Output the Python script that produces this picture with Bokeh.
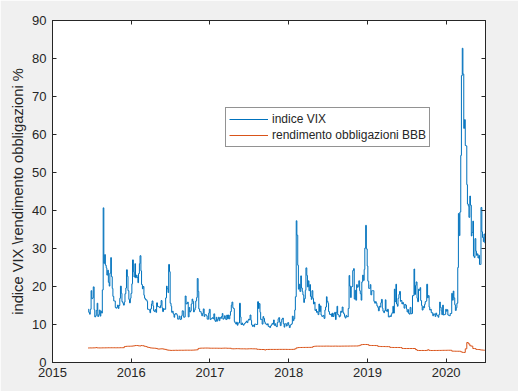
import numpy as np
import pandas as pd
from bokeh.plotting import figure
from bokeh.models import Range1d, FixedTicker, LinearAxis
from bokeh.embed import file_html
from bokeh.resources import INLINE

# ---------------- data ----------------
# indice VIX: two readings per week (Mon, Thu), starting 2015-06-15; each row = 4 weeks
vix = [
    14.0, 13.2, 12.7, 14.0, 18.9, 16.8, 17.0, 19.9,
    13.9, 12.0, 12.3, 13.7, 15.6, 12.1, 12.6, 13.8,
    12.2, 13.5, 13.0, 19.1, 40.7, 26.1, 28.4, 25.6,
    24.9, 23.0, 24.3, 21.1, 20.1, 23.5, 27.6, 22.6,
    19.5, 17.4, 16.2, 16.2, 14.5, 14.3, 14.5, 15.1,
    14.2, 15.0, 16.9, 20.1, 18.2, 16.0, 15.6, 15.1,
    15.9, 18.1, 19.6, 24.4, 22.7, 18.9, 16.6, 15.7,
    16.9, 18.2, 20.7, 27.0, 23.9, 22.5, 26.0, 22.3,
    23.0, 22.4, 21.0, 23.4, 26.0, 28.1, 24.1, 20.5,
    19.4, 20.0, 17.7, 16.9, 16.5, 16.5, 16.1, 14.0,
    14.0, 13.8, 13.1, 14.1, 15.4, 16.2, 14.9, 13.6,
    13.4, 13.9, 13.2, 15.7, 14.7, 14.7, 14.6, 14.4,
    15.0, 16.3, 14.4, 13.4, 14.2, 14.0, 14.0, 17.0,
    20.1, 19.4, 18.4, 25.8, 23.9, 15.6, 14.8, 13.2,
    13.5, 12.8, 11.9, 12.7, 12.9, 12.8, 12.4, 11.4,
    11.5, 12.2, 11.3, 11.4, 12.3, 13.6, 13.5, 11.9,
    12.0, 17.5, 15.4, 15.5, 15.9, 12.0, 14.5, 13.3,
    13.6, 15.4, 16.7, 16.1, 13.3, 13.8, 14.4, 16.2,
    17.1, 22.1, 18.7, 14.1, 13.4, 13.4, 12.9, 12.3,
    12.9, 14.1, 12.1, 12.6, 12.6, 12.3, 11.4, 11.4,
    13.0, 14.0, 11.3, 11.5, 11.6, 11.8, 11.5, 12.8,
    11.1, 10.8, 11.9, 10.9, 11.4, 11.9, 11.0, 11.8,
    11.6, 12.1, 12.9, 11.4, 11.6, 12.3, 11.5, 11.3,
    12.5, 11.5, 12.5, 11.5, 12.4, 13.4, 15.1, 15.9,
    14.4, 14.2, 10.8, 10.4, 10.1, 10.6, 9.8, 10.4,
    10.4, 15.6, 12.0, 10.0, 10.4, 10.0, 9.8, 10.2,
    10.4, 10.6, 10.9, 10.5, 11.1, 11.4, 11.2, 12.5,
    11.1, 9.9, 9.5, 9.8, 9.4, 10.1, 10.1, 10.0,
    10.0, 16.0, 14.2, 15.5, 13.2, 11.3, 11.4, 10.1,
    12.1, 11.6, 10.7, 10.2, 10.1, 9.9, 10.2, 9.5,
    9.5, 9.2, 9.6, 9.9, 10.3, 10.1, 11.2, 9.8,
    10.2, 9.6, 9.4, 10.5, 11.5, 11.8, 10.6, 9.7,
    10.7, 11.4, 11.7, 10.2, 9.3, 10.2, 10.2, 9.6,
    10.3, 10.5, 9.8, 9.2, 9.8, 10.0, 10.2, 12.2,
    11.0, 11.5, 13.8, 17.3, 37.3, 33.5, 25.6, 19.3,
    20.6, 18.7, 22.8, 19.6, 18.7, 17.8, 15.8, 16.8,
    19.0, 24.9, 22.9, 19.9, 21.5, 18.9, 20.5, 17.4,
    16.6, 18.9, 16.9, 15.4, 15.9, 13.7, 14.0, 13.2,
    13.4, 12.6, 15.4, 13.4, 14.9, 12.5, 12.1, 12.2,
    12.4, 11.6, 13.8, 14.6, 17.3, 16.1, 15.6, 13.4,
    12.7, 12.6, 12.8, 12.1, 13.0, 12.1, 12.8, 13.2,
    11.3, 13.2, 14.8, 12.6, 12.5, 12.0, 12.3, 13.5,
    13.2, 14.6, 13.2, 12.8, 12.1, 11.7, 12.4, 12.1,
    12.0, 14.2, 22.9, 20.1, 17.1, 19.9, 20.0, 24.2,
    24.7, 16.7, 19.0, 16.4, 20.5, 19.8, 20.1, 21.5,
    18.9, 18.1, 16.4, 21.2, 23.0, 21.6, 24.5, 30.1,
    36.1, 29.9, 25.4, 21.4, 19.5, 19.5, 20.5, 17.8,
    18.9, 18.9, 18.9, 16.1, 15.6, 16.0, 15.6, 14.9,
    14.5, 13.6, 14.8, 14.6, 15.7, 16.6, 14.3, 13.5,
    13.1, 13.6, 16.5, 13.7, 13.4, 14.0, 12.0, 12.0,
    12.3, 12.1, 12.7, 13.1, 14.8, 13.0, 19.3, 16.0,
    20.6, 15.4, 14.8, 16.9, 17.9, 18.7, 16.1, 16.3,
    15.4, 15.8, 15.4, 14.3, 15.3, 15.1, 14.1, 13.3,
    13.9, 12.9, 12.7, 14.5, 12.8, 12.9, 17.6, 17.6,
    24.6, 17.9, 20.3, 21.2, 16.9, 16.0, 19.3, 19.0,
    19.7, 16.3, 15.0, 13.8, 14.7, 14.4, 15.3, 16.0,
    16.2, 20.6, 17.0, 17.6, 14.6, 13.8, 14.0, 13.1,
    13.1, 12.3, 12.8, 12.7, 12.1, 13.0, 12.5, 12.3,
    11.9, 12.6, 15.9, 14.5, 13.6, 12.6, 15.1, 12.5,
    12.6, 12.7, 14.0, 13.5, 13.9, 12.5, 12.4, 12.3,
    12.9, 12.9, 18.2, 16.4, 18.8, 17.0, 15.2, 13.7,
    14.4, 15.6, 25.0, 39.2, 33.4, 39.6, 54.5, 75.5,
    82.7, 75.9, 61.6, 63.9, 57.1, 57.0, 46.8, 41.7,
    41.2, 38.2, 43.8, 41.4, 33.3, 34.2, 37.2, 28.0,
    27.6, 32.6, 29.3, 28.2, 28.6, 27.5, 28.2, 25.8,
    25.8, 40.8, 34.4, 32.9, 31.8, 33.8, 31.4,
]

# rendimento obbligazioni BBB: one reading per week starting 2015-06-15; each row = 4 weeks
bbb = [
    3.82, 3.84, 3.83, 3.85,
    3.86, 3.92, 3.85, 3.84,
    3.84, 3.85, 3.86, 3.86,
    3.87, 3.88, 3.88, 3.88,
    3.88, 3.88, 3.87, 3.88,
    3.88, 3.89, 3.89, 3.90,
    4.20, 4.25, 4.28, 4.28,
    4.30, 4.32, 4.38, 4.45,
    4.47, 4.40, 4.35, 4.45,
    4.42, 4.30, 4.20, 4.05,
    3.95, 3.85, 3.80, 3.78,
    3.75, 3.70, 3.55, 3.55,
    3.60, 3.60, 3.50, 3.45,
    3.30, 3.25, 3.20, 3.18,
    3.20, 3.20, 3.22, 3.20,
    3.22, 3.22, 3.22, 3.22,
    3.24, 3.24, 3.24, 3.24,
    3.24, 3.25, 3.28, 3.30,
    3.35, 3.70, 3.76, 3.78,
    3.78, 3.80, 3.80, 3.80,
    3.78, 3.76, 3.76, 3.76,
    3.76, 3.76, 3.75, 3.75,
    3.74, 3.76, 3.78, 3.78,
    3.75, 3.74, 3.75, 3.62,
    3.60, 3.62, 3.64, 3.64,
    3.62, 3.60, 3.60, 3.60,
    3.58, 3.58, 3.60, 3.62,
    3.62, 3.60, 3.60, 3.58,
    3.48, 3.45, 3.43, 3.42,
    3.42, 3.30, 3.42, 3.43,
    3.44, 3.44, 3.44, 3.44,
    3.44, 3.44, 3.45, 3.45,
    3.45, 3.45, 3.45, 3.45,
    3.44, 3.44, 3.44, 3.45,
    3.46, 3.60, 3.85, 3.92,
    3.95, 3.95, 3.96, 3.96,
    3.97, 3.97, 3.98, 3.98,
    4.00, 4.20, 4.28, 4.30,
    4.30, 4.30, 4.30, 4.30,
    4.30, 4.31, 4.31, 4.31,
    4.30, 4.30, 4.30, 4.31,
    4.31, 4.30, 4.30, 4.30,
    4.31, 4.31, 4.32, 4.32,
    4.32, 4.33, 4.33, 4.34,
    4.34, 4.35, 4.35, 4.40,
    4.55, 4.70, 4.74, 4.74,
    4.74, 4.72, 4.50, 4.48,
    4.47, 4.47, 4.46, 4.46,
    4.25, 4.22, 4.20, 4.20,
    4.20, 4.18, 4.18, 4.18,
    3.98, 3.96, 3.95, 3.95,
    3.95, 3.95, 3.94, 3.94,
    3.70, 3.68, 3.68, 3.68,
    3.68, 3.68, 3.68, 3.68,
    3.68, 3.40, 3.18, 3.16,
    3.16, 3.17, 3.16, 3.16,
    3.18, 3.35, 3.18, 3.16,
    3.16, 3.17, 3.17, 3.17,
    3.18, 3.18, 3.19, 3.20,
    3.20, 3.21, 3.22, 3.22,
    3.22, 3.00, 2.98, 2.97,
    2.96, 2.96, 2.96, 2.80,
    2.65, 2.65, 3.60, 5.26,
    4.90, 4.40, 4.30, 3.68,
    3.68, 3.45, 3.42, 3.40,
    3.30, 3.28, 3.24, 3.22,
]

x_ticks = [2015, 2016, 2017, 2018, 2019, 2020]
x_tick_labels = ["2015", "2016", "2017", "2018", "2019", "2020"]
y_ticks = [0, 10, 20, 30, 40, 50, 60, 70, 80, 90]
y_tick_labels = ["0", "10", "20", "30", "40", "50", "60", "70", "80", "90"]
series_names = ["indice VIX", "rendimento obbligazioni BBB"]
y_label = "indice VIX \\rendimento obbligazioni %"
start_date = "2015-06-15"


def decimal_year(dates):
    out = []
    for d in dates:
        s = pd.Timestamp(year=d.year, month=1, day=1)
        e = pd.Timestamp(year=d.year + 1, month=1, day=1)
        out.append(d.year + (d - s) / (e - s))
    return np.array(out)


start = pd.Timestamp(start_date)
iv = np.arange(len(vix))
vix_dates = start + pd.to_timedelta(7 * (iv // 2) + 3 * (iv % 2), unit="D")
ib = np.arange(len(bbb))
bbb_dates = start + pd.to_timedelta(7 * ib, unit="D")
vix_x = decimal_year(vix_dates)
bbb_x = decimal_year(bbb_dates)

# ---------------- figure ----------------
FONT = "Liberation Sans"
AX = "#262626"

p = figure(width=518, height=391, output_backend="svg", toolbar_location=None,
           x_range=Range1d(2015, 2020.5), y_range=Range1d(0, 90),
           min_border_left=52, min_border_right=33, min_border_top=20,
           min_border_bottom=29,
           background_fill_color="white", border_fill_color="#f0f0f0",
           outline_line_color=AX, outline_line_width=1)

p.xgrid.visible = False
p.ygrid.visible = False

for ax, ticks, labels in ((p.xaxis[0], x_ticks, x_tick_labels),
                          (p.yaxis[0], y_ticks, y_tick_labels)):
    ax.ticker = FixedTicker(ticks=ticks)
    ax.major_label_overrides = {t: l for t, l in zip(ticks, labels)}
    ax.major_tick_in = 4
    ax.major_tick_out = 0
    ax.minor_tick_line_color = None
    ax.axis_line_color = AX
    ax.major_tick_line_color = AX
    ax.major_label_text_font = FONT
    ax.major_label_text_font_size = "13px"
    ax.major_label_text_color = AX

p.xaxis.major_label_standoff = 5
p.yaxis.major_label_standoff = 6
p.yaxis.axis_label = y_label
p.yaxis.axis_label_text_font = FONT
p.yaxis.axis_label_text_font_size = "14.7px"
p.yaxis.axis_label_text_font_style = "normal"
p.yaxis.axis_label_text_color = AX
p.yaxis.axis_label_standoff = 3

for loc, ticks in (("above", x_ticks), ("right", y_ticks)):
    extra = LinearAxis(ticker=FixedTicker(ticks=ticks),
                       major_label_text_color=None,
                       major_label_text_font_size="13px",
                       major_tick_in=4, major_tick_out=0,
                       minor_tick_line_color=None,
                       axis_line_color=AX, major_tick_line_color=AX,
                       major_label_standoff=0)
    p.add_layout(extra, loc)

p.step(vix_x, vix, mode="after", line_color="#0072BD", line_width=1,
       legend_label=series_names[0])
p.step(bbb_x, bbb, mode="after", line_color="#D95319", line_width=1,
       legend_label=series_names[1])

lg = p.legend[0]
lg.location = (173, 215)
lg.label_text_font = FONT
lg.label_text_font_size = "12px"
lg.label_text_color = AX
lg.glyph_width = 39
lg.glyph_height = 16
lg.label_height = 16
lg.label_standoff = 4
lg.padding = 3
lg.spacing = 0
lg.margin = 0
lg.border_line_color = AX
lg.border_line_width = 1
lg.background_fill_color = "white"
lg.background_fill_alpha = 1

html = file_html(p, INLINE)
html = html.replace("<body>", '<body style="margin:0;background-color:#f0f0f0;">', 1)
open("out.html", "w").write(html)
